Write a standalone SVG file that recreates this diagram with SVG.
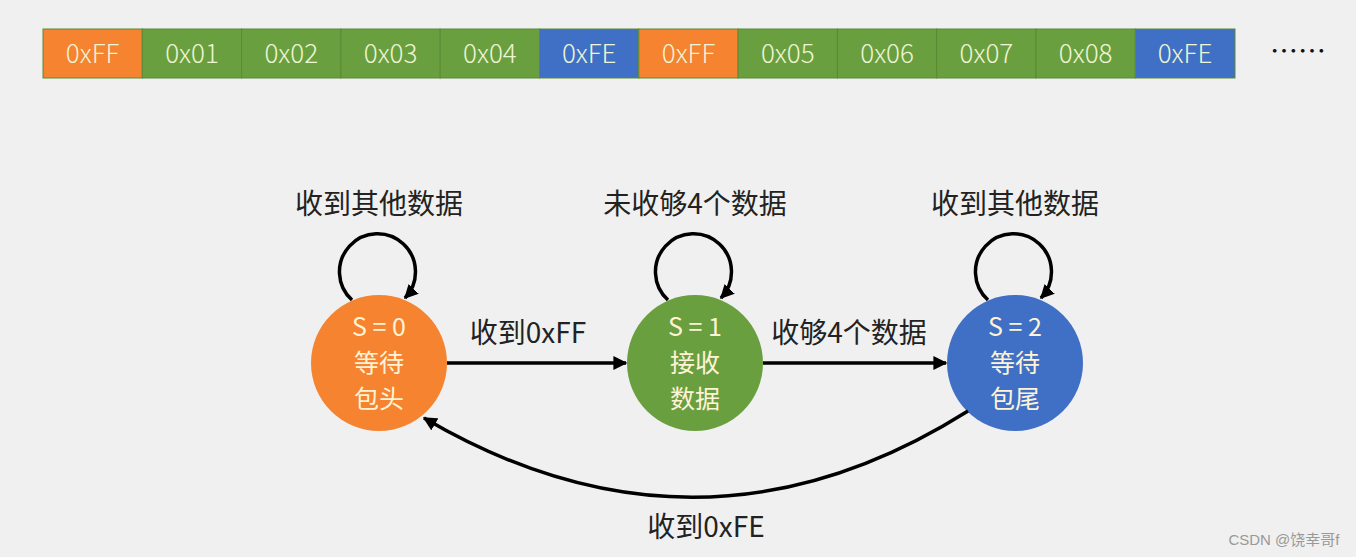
<svg xmlns="http://www.w3.org/2000/svg" width="1356" height="557" viewBox="0 0 1356 557">
<style>
.cell{stroke:#5a8a35;stroke-width:1}
.o{fill:#F5832F}
.g{fill:#6A9F40}
.b{fill:#3F70C5}
.ct{font-family:"Noto Sans CJK SC","Liberation Sans",sans-serif;font-size:26px;font-weight:300;fill:#EEF5D5;text-anchor:middle}
.lbl{font-family:"Noto Sans CJK SC","Liberation Sans",sans-serif;font-size:28px;fill:#222;text-anchor:middle}
.nt{font-family:"Noto Sans CJK SC","Liberation Sans",sans-serif;font-size:25px;fill:#FFF3D6;text-anchor:middle}
.ln{fill:none;stroke:#000;stroke-width:3.5}
</style>
<defs>
<marker id="ah" viewBox="0 0 10 10" refX="9" refY="5" markerWidth="4" markerHeight="4" orient="auto" markerUnits="strokeWidth">
<path d="M0,0 L10,5 L0,10 z" fill="#000"/>
</marker>
</defs>
<rect width="1356" height="557" fill="#F0F0F0"/>
<g id="bytes">
<rect class="cell o" x="43" y="29" width="99.3" height="49"/>
<rect class="cell g" x="142.3" y="29" width="99.3" height="49"/>
<rect class="cell g" x="241.6" y="29" width="99.3" height="49"/>
<rect class="cell g" x="340.9" y="29" width="99.3" height="49"/>
<rect class="cell g" x="440.2" y="29" width="99.3" height="49"/>
<rect class="cell b" x="539.5" y="29" width="99.3" height="49"/>
<rect class="cell o" x="638.8" y="29" width="99.3" height="49"/>
<rect class="cell g" x="738.1" y="29" width="99.3" height="49"/>
<rect class="cell g" x="837.4" y="29" width="99.3" height="49"/>
<rect class="cell g" x="936.7" y="29" width="99.3" height="49"/>
<rect class="cell g" x="1036" y="29" width="99.3" height="49"/>
<rect class="cell b" x="1135.3" y="29" width="99.7" height="49"/>
<text class="ct" x="92.6" y="63">0xFF</text>
<text class="ct" x="192" y="63">0x01</text>
<text class="ct" x="291.3" y="63">0x02</text>
<text class="ct" x="390.6" y="63">0x03</text>
<text class="ct" x="489.9" y="63">0x04</text>
<text class="ct" x="589.2" y="63">0xFE</text>
<text class="ct" x="688.5" y="63">0xFF</text>
<text class="ct" x="787.8" y="63">0x05</text>
<text class="ct" x="887.1" y="63">0x06</text>
<text class="ct" x="986.4" y="63">0x07</text>
<text class="ct" x="1085.7" y="63">0x08</text>
<text class="ct" x="1185" y="63">0xFE</text>
<text x="1298" y="62" font-family="Noto Sans CJK SC, sans-serif" font-size="28" fill="#111" text-anchor="middle">……</text>
</g>
<g id="s0">
<circle cx="379" cy="363" r="68" fill="#F5832F"/>
<text class="nt" x="379" y="336">S = 0</text>
<text class="nt" x="379" y="372">等待</text>
<text class="nt" x="379" y="408">包头</text>
</g>
<g id="s1">
<circle cx="695" cy="363" r="68" fill="#6A9F40"/>
<text class="nt" x="695" y="336">S = 1</text>
<text class="nt" x="695" y="372">接收</text>
<text class="nt" x="695" y="408">数据</text>
</g>
<g id="s2">
<circle cx="1015" cy="363" r="68" fill="#3F70C5"/>
<text class="nt" x="1015" y="336">S = 2</text>
<text class="nt" x="1015" y="372">等待</text>
<text class="nt" x="1015" y="408">包尾</text>
</g>
<g id="connectors">
<path class="ln" d="M352 300 A38 38 0 1 1 405 298" marker-end="url(#ah)"/>
<path class="ln" d="M668 300 A38 38 0 1 1 721 298" marker-end="url(#ah)"/>
<path class="ln" d="M988 300 A38 38 0 1 1 1041 298" marker-end="url(#ah)"/>
<path class="ln" d="M447 363 L626 363" marker-end="url(#ah)"/>
<path class="ln" d="M763 363 L946 363" marker-end="url(#ah)"/>
<path class="ln" d="M968 411 Q700 580 424 418" marker-end="url(#ah)"/>
</g>
<g id="labels">
<text class="lbl" x="379" y="214">收到其他数据</text>
<text class="lbl" x="695" y="214">未收够4个数据</text>
<text class="lbl" x="1015" y="214">收到其他数据</text>
<text class="lbl" x="528" y="343">收到0xFF</text>
<text class="lbl" x="849" y="343">收够4个数据</text>
<text class="lbl" x="706" y="537">收到0xFE</text>
</g>
<text x="1284" y="545" font-family="Liberation Sans, Noto Sans CJK SC, sans-serif" font-size="15" fill="#999" text-anchor="middle">CSDN @饶幸哥f</text>
</svg>
